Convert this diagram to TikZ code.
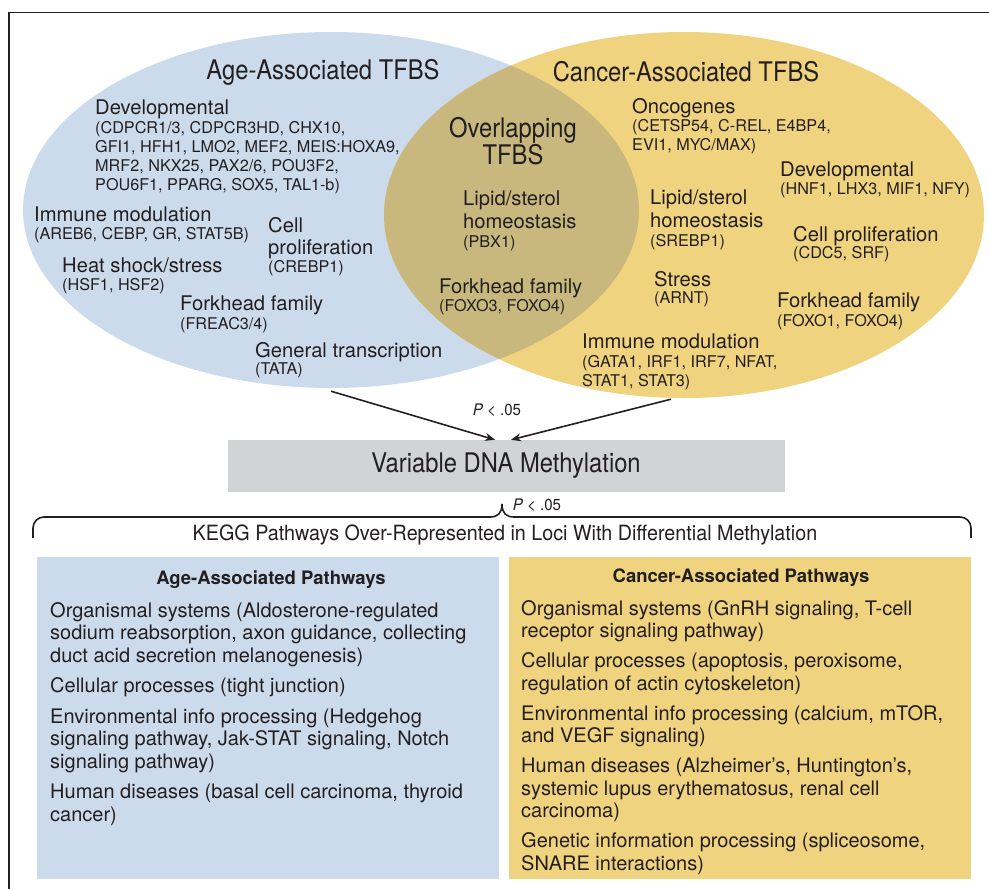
\documentclass[tikz,border=0pt]{standalone}
\usepackage{fontspec}
\setmainfont{TeX Gyre Heros}
\newfontfamily\condfont[FakeStretch=0.88]{TeX Gyre Heros}
\newfontfamily\semicond[FakeStretch=0.94]{TeX Gyre Heros}
\usetikzlibrary{shapes.geometric,arrows.meta}
\definecolor{ageblue}{RGB}{204,219,236}
\definecolor{canyellow}{RGB}{240,211,127}
\definecolor{ovlolive}{RGB}{201,184,126}
\definecolor{methgray}{RGB}{209,211,212}
\definecolor{inkc}{RGB}{35,31,32}

\begin{document}
\begin{tikzpicture}[x=1pt,y=-1pt,
    every node/.style={text=inkc, inner sep=0pt},
    hd/.style={anchor=north west, align=left, font=\fontsize{20.2}{22.5}\selectfont},
    gl/.style={anchor=north west, align=left, font=\fontsize{16.2}{19}\selectfont},
    ttl/.style={align=center, font=\condfont\fontsize{27}{27}\selectfont},
    body/.style={anchor=north west, align=left, font=\fontsize{20}{22.5}\selectfont},
    pv/.style={font=\semicond\fontsize{16}{17}\selectfont},
    >={Stealth[length=10pt,width=8pt]}]
            \useasboundingbox (0,0) rectangle (989,889);
            \draw[line width=1.5pt, inkc] (9,889) -- (9,12.5) -- (989,12.5);

            \node[ellipse, fill=ageblue, minimum width=616pt, minimum height=356pt] (age) at (331,210) {};
            \node[ellipse, fill=canyellow, minimum width=600pt, minimum height=366pt] (cancer) at (684,215) {};
            \begin{scope}
                \clip (331,210) ellipse [x radius=308, y radius=178];
                \fill[ovlolive] (684,215) ellipse [x radius=300, y radius=183];
            \end{scope}

            \node[ttl] (ageT) at (323,72) {Age-Associated TFBS};
            \node[ttl] (canT) at (686,72) {Cancer-Associated TFBS};
            \node[ttl] (ovlT) at (513,141) {Overlapping\\TFBS};

            \node[hd] (devA) at (95,100) {Developmental};
            \node[gl] (devAg) at (95,121) {(CDPCR1/3, CDPCR3HD, CHX10,\\GFI1, HFH1, LMO2, MEF2, MEIS:HOXA9,\\MRF2, NKX25, PAX2/6, POU3F2,\\POU6F1, PPARG, SOX5, TAL1-b)};
            \node[hd] (immA) at (34,207) {Immune modulation};
            \node[gl] (immAg) at (34,227) {(AREB6, CEBP, GR, STAT5B)};
            \node[hd] (cellA) at (268,217) {Cell\\proliferation};
            \node[gl] (cellAg) at (268,260) {(CREBP1)};
            \node[hd] (heatA) at (62,258) {Heat shock/stress};
            \node[gl] (heatAg) at (62,278) {(HSF1, HSF2)};
            \node[hd] (forkA) at (180,296) {Forkhead family};
            \node[gl] (forkAg) at (180,317) {(FREAC3/4)};
            \node[hd] (genA) at (255,342) {General transcription};
            \node[gl] (genAg) at (255,362) {(TATA)};

            \node[hd] (lipO) at (463,191) {Lipid/sterol\\homeostasis};
            \node[gl] (lipOg) at (463,235) {(PBX1)};
            \node[hd] (forkO) at (439,279) {Forkhead family};
            \node[gl] (forkOg) at (439,299) {(FOXO3, FOXO4)};

            \node[hd] (oncC) at (632,98) {Oncogenes};
            \node[gl] (oncCg) at (632,119) {(CETSP54, C-REL, E4BP4,\\EVI1, MYC/MAX)};
            \node[hd] (devC) at (780,162) {Developmental};
            \node[gl] (devCg) at (780,182) {(HNF1, LHX3, MIF1, NFY)};
            \node[hd] (lipC) at (650,190) {Lipid/sterol\\homeostasis};
            \node[gl] (lipCg) at (650,234) {(SREBP1)};
            \node[hd] (cellC) at (793,226) {Cell proliferation};
            \node[gl] (cellCg) at (793,246) {(CDC5, SRF)};
            \node[hd] (strC) at (654,271) {Stress};
            \node[gl] (strCg) at (654,291) {(ARNT)};
            \node[hd] (forkC) at (777,293) {Forkhead family};
            \node[gl] (forkCg) at (777,314) {(FOXO1, FOXO4)};
            \node[hd] (immC) at (582,334) {Immune modulation};
            \node[gl] (immCg) at (582,355) {(GATA1, IRF1, IRF7, NFAT,\\STAT1, STAT3)};

            \node[fill=methgray, minimum width=557pt, minimum height=52pt, font=\condfont\fontsize{27}{28}\selectfont] (meth) at (506,466) {Variable DNA Methylation};
            \draw[->, line width=1.6pt, inkc] ([yshift=-3pt]age.south) -- ([xshift=-11pt]meth.north);
            \draw[->, line width=1.6pt, inkc] ([xshift=-13pt,yshift=-1pt]cancer.south) -- ([xshift=5pt]meth.north);
            \node[pv] (pA) at (497,410) {\itshape P\upshape{} < .05};

            \coordinate (bl) at (33,538);
            \coordinate (br) at (971,538);
            \coordinate (tip) at (502,504);
            \draw[line width=1.6pt, inkc] (bl) -- (33,528) arc[start angle=180, end angle=270, radius=11]
                -- (490,517) .. controls (498,517) and (502,513) .. (tip)
                .. controls (502,513) and (506,517) .. (514,517)
                -- (960,517) arc[start angle=270, end angle=360, radius=11] -- (br);
            \node[pv] (pB) at (537,505) {\itshape P\upshape{} < .05};
            \node[font=\semicond\fontsize{21}{23}\selectfont] (kegg) at (505,535) {KEGG Pathways Over-Represented in Loci With Differential Methylation};

            \fill[ageblue] (37,557) rectangle (499,879);
            \fill[canyellow] (509,557) rectangle (971,879);
            \node[anchor=north, font=\bfseries\fontsize{18.5}{20}\selectfont] (ageP) at (271,571) {Age-Associated Pathways};
            \node[anchor=north, font=\bfseries\fontsize{18.5}{20}\selectfont] (canP) at (741,569) {Cancer-Associated Pathways};
            \node[body] (ageB) at (50,602) {Organismal systems (Aldosterone-regulated\\sodium reabsorption, axon guidance, collecting\\duct acid secretion melanogenesis)\\[8pt]
                Cellular processes (tight junction)\\[8pt]
                Environmental info processing (Hedgehog\\signaling pathway, Jak-STAT signaling, Notch\\signaling pathway)\\[8pt]
                Human diseases (basal cell carcinoma, thyroid\\cancer)};
            \node[body] (canB) at (521,600) {Organismal systems (GnRH signaling, T-cell\\receptor signaling pathway)\\[7.5pt]
                Cellular processes (apoptosis, peroxisome,\\regulation of actin cytoskeleton)\\[7.5pt]
                Environmental info processing (calcium, mTOR,\\and VEGF signaling)\\[7.5pt]
                Human diseases (Alzheimer’s, Huntington’s,\\systemic lupus erythematosus, renal cell\\carcinoma)\\[7.5pt]
                Genetic information processing (spliceosome,\\SNARE interactions)};
        \end{tikzpicture}
\end{document}
